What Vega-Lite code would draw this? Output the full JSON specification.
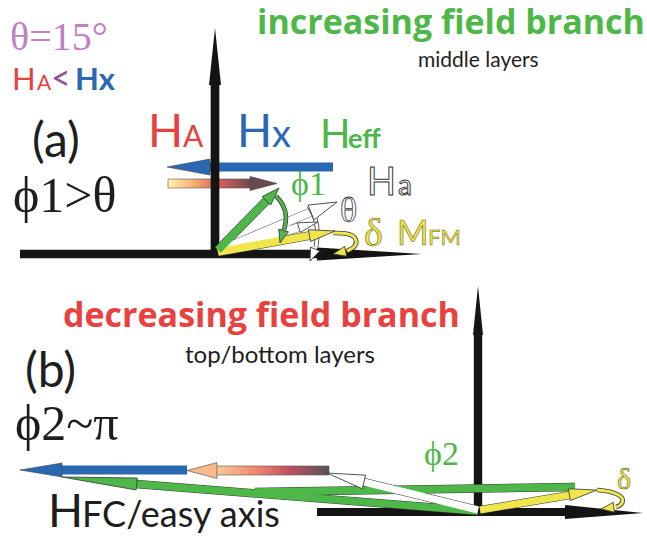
{
  "$schema": "https://vega.github.io/schema/vega-lite/v6.json",
  "width": 647,
  "height": 536,
  "padding": 0,
  "autosize": {"type": "none"},
  "background": "#ffffff",
  "config": {"view": {"stroke": null}},
  "datasets": {
    "shafts": [
      {"v": "Hx_a", "q": "Hx", "g": "under", "x": 333, "y": 167, "x2": 208, "y2": 167},
      {"v": "Hx_b", "q": "Hx", "g": "under", "x": 187, "y": 470, "x2": 60, "y2": 470},
      {"v": "axis_av", "q": "axis", "g": "axis", "x": 215, "y": 257, "x2": 215, "y2": 84},
      {"v": "axis_ah", "q": "axis", "g": "axis", "x": 20, "y": 254, "x2": 318, "y2": 254},
      {"v": "axis_bv", "q": "axis", "g": "axis", "x": 478, "y": 515, "x2": 478, "y2": 334},
      {"v": "axis_bh", "q": "axis", "g": "axis", "x": 317, "y": 512, "x2": 566, "y2": 512},
      {"v": "Ha_a2", "q": "Ha", "g": "over", "x": 218, "y": 251, "x2": 300, "y2": 227},
      {"v": "Ha_a1", "q": "Ha", "g": "over", "x": 218, "y": 251, "x2": 311, "y2": 212},
      {"v": "MFM_a", "q": "MFM", "g": "over", "x": 218, "y": 252, "x2": 310, "y2": 235.5},
      {"v": "Heff_a", "q": "Heff", "g": "over", "x": 218, "y": 250, "x2": 267, "y2": 200},
      {"v": "phi2band", "q": "Heff", "g": "over", "x": 255, "y": 492, "x2": 575, "y2": 487},
      {"v": "Heff_b", "q": "Heff", "g": "over", "x": 478, "y": 511, "x2": 136, "y2": 484},
      {"v": "Ha_b", "q": "Ha", "g": "over", "x": 478, "y": 510, "x2": 364, "y2": 482},
      {"v": "MFM_b", "q": "MFM", "g": "over", "x": 480, "y": 510, "x2": 570, "y2": 495}
    ],
    "heads": [
      {"v": "Hx_a", "q": "Hx", "g": "under", "bx": 210, "by": 167, "x": 167, "y": 167},
      {"v": "Hx_b", "q": "Hx", "g": "under", "bx": 62, "by": 470, "x": 20, "y": 470},
      {"v": "grad_a", "q": "grad_a", "g": "under", "bx": 250, "by": 183.5, "x": 277, "y": 183.5},
      {"v": "grad_b", "q": "grad_b", "g": "under", "bx": 217, "by": 470.5, "x": 187, "y": 470.5},
      {"v": "axis_av", "q": "axis", "g": "axis", "bx": 215, "by": 85, "x": 215, "y": 28},
      {"v": "axis_ah", "q": "axis", "g": "axis", "bx": 317, "by": 254, "x": 422, "y": 254},
      {"v": "axis_bv", "q": "axis", "g": "axis", "bx": 478, "by": 335, "x": 478, "y": 286},
      {"v": "axis_bh", "q": "axis", "g": "axis", "bx": 565, "by": 512, "x": 643, "y": 513},
      {"v": "Ha_a2", "q": "Ha", "g": "over", "bx": 299, "by": 227.6, "x": 318, "y": 222},
      {"v": "Ha_a1", "q": "Ha", "g": "over", "bx": 311, "by": 212.5, "x": 337, "y": 202},
      {"v": "MFM_a", "q": "MFM", "g": "over", "bx": 309.4, "by": 235.6, "x": 335, "y": 231},
      {"v": "Heff_a", "q": "Heff", "g": "over", "bx": 266.4, "by": 200.8, "x": 279, "y": 188},
      {"v": "Heff_b", "q": "Heff", "g": "over", "bx": 137, "by": 484, "x": 62, "y": 477},
      {"v": "Ha_b", "q": "Ha", "g": "over", "bx": 364, "by": 482, "x": 327, "y": 473},
      {"v": "MFM_b", "q": "MFM", "g": "over", "bx": 569.4, "by": 494.7, "x": 597, "y": 490},
      {"v": "arc", "q": "Heff", "g": "over", "bx": 284, "by": 229, "x": 280, "y": 243},
      {"v": "arc", "q": "Ha", "g": "over", "bx": 316, "by": 247, "x": 310, "y": 261},
      {"v": "arc", "q": "MFM", "g": "over", "bx": 347, "by": 251, "x": 333, "y": 254},
      {"v": "arc", "q": "MFM", "g": "over", "bx": 616, "by": 507, "x": 601, "y": 509}
    ],
    "arcs": [
      {"a": "phi1", "q": "Heff", "i": 0, "x": 276, "y": 196},
      {"a": "phi1", "q": "Heff", "i": 1, "x": 284, "y": 205},
      {"a": "phi1", "q": "Heff", "i": 2, "x": 287, "y": 218},
      {"a": "phi1", "q": "Heff", "i": 3, "x": 284, "y": 230},
      {"a": "th", "q": "Ha", "i": 0, "x": 309, "y": 206},
      {"a": "th", "q": "Ha", "i": 1, "x": 316, "y": 218},
      {"a": "th", "q": "Ha", "i": 2, "x": 318, "y": 233},
      {"a": "th", "q": "Ha", "i": 3, "x": 316, "y": 247},
      {"a": "da", "q": "MFM", "i": 0, "x": 333, "y": 233},
      {"a": "da", "q": "MFM", "i": 1, "x": 348, "y": 233},
      {"a": "da", "q": "MFM", "i": 2, "x": 357, "y": 238},
      {"a": "da", "q": "MFM", "i": 3, "x": 356, "y": 247},
      {"a": "da", "q": "MFM", "i": 4, "x": 347, "y": 251},
      {"a": "db", "q": "MFM", "i": 0, "x": 597, "y": 490},
      {"a": "db", "q": "MFM", "i": 1, "x": 615, "y": 492},
      {"a": "db", "q": "MFM", "i": 2, "x": 625, "y": 499},
      {"a": "db", "q": "MFM", "i": 3, "x": 620, "y": 506},
      {"a": "db", "q": "MFM", "i": 4, "x": 616, "y": 507}
    ],
    "grads": [
      {"g": "a", "x": 168, "x2": 252, "y": 179, "y2": 188},
      {"g": "b", "x": 215, "x2": 329, "y": 466, "y2": 475}
    ],
    "texts": [
      {"k": "tb", "t": "increasing field branch", "q": "Heff", "x": 257, "y": 34},
      {"k": "tb", "t": "decreasing field branch", "q": "HA", "x": 63, "y": 327},
      {"k": "s21", "t": "middle layers", "q": "label", "x": 418, "y": 67},
      {"k": "s24", "t": "top/bottom layers", "q": "label", "x": 185, "y": 363},
      {"k": "s21", "t": "A", "q": "HA", "x": 37, "y": 90},
      {"k": "s48", "t": "(a)", "q": "label", "x": 32, "y": 157},
      {"k": "s48", "t": "(b)", "q": "label", "x": 25, "y": 387},
      {"k": "r50", "t": "ϕ1>θ", "q": "label", "x": 13, "y": 212},
      {"k": "r50", "t": "ϕ2~π", "q": "label", "x": 15, "y": 440},
      {"k": "r40", "t": "θ=15°", "q": "theta", "x": 10, "y": 50},
      {"k": "s31", "t": "H", "q": "HA", "x": 12, "y": 90},
      {"k": "lt", "t": "<", "q": "mix", "x": 51, "y": 90},
      {"k": "sb31", "t": "Hx", "q": "Hx", "x": 75, "y": 90},
      {"k": "s46", "t": "H", "q": "HA", "x": 148, "y": 147},
      {"k": "s46", "t": "H", "q": "Hx", "x": 237, "y": 147},
      {"k": "s30", "t": "A", "q": "HA", "x": 183, "y": 147},
      {"k": "s38", "t": "x", "q": "Hx", "x": 272, "y": 147},
      {"k": "s40", "t": "H", "q": "Heff", "x": 320, "y": 148},
      {"k": "sb27", "t": "eff", "q": "Heff", "x": 348, "y": 148},
      {"k": "r34", "t": "ϕ1", "q": "Heff", "x": 291, "y": 195},
      {"k": "r34", "t": "ϕ2", "q": "Heff", "x": 424, "y": 465},
      {"k": "o38", "t": "H", "q": "Ha", "x": 367, "y": 195},
      {"k": "o28", "t": "a", "q": "Ha", "x": 398, "y": 195},
      {"k": "or36", "t": "θ", "q": "Ha", "x": 340, "y": 222},
      {"k": "yr40", "t": "δ", "q": "MFM", "x": 364, "y": 246},
      {"k": "yr30", "t": "δ", "q": "MFM", "x": 617, "y": 489},
      {"k": "y34", "t": "M", "q": "MFM", "x": 397, "y": 245},
      {"k": "y22", "t": "FM", "q": "MFM", "x": 428, "y": 245},
      {"k": "s46", "t": "H", "q": "label", "x": 48, "y": 527},
      {"k": "s36", "t": "FC/easy axis", "q": "label", "x": 82, "y": 527}
    ]
  },
  "encoding": {
    "x": {"field": "x", "type": "quantitative", "scale": {"domain": [0, 647], "nice": false, "zero": false}, "axis": null},
    "y": {"field": "y", "type": "quantitative", "scale": {"domain": [0, 536], "nice": false, "zero": false, "reverse": true}, "axis": null}
  },
  "resolve": {"scale": {"strokeWidth": "independent"}},
  "layer": [
    {
      "data": {"name": "grads"},
      "transform": [{"filter": "datum.g == 'a'"}],
      "mark": {"type": "rect", "stroke": "#555555", "strokeWidth": 0.6,
        "fill": {"gradient": "linear", "stops": [
          {"offset": 0, "color": "#fff3b0"}, {"offset": 0.3, "color": "#f6b070"},
          {"offset": 0.6, "color": "#d9605a"}, {"offset": 1, "color": "#6b4a4e"}]}},
      "encoding": {"x2": {"field": "x2"}, "y2": {"field": "y2"}}
    },
    {
      "data": {"name": "grads"},
      "transform": [{"filter": "datum.g == 'b'"}],
      "mark": {"type": "rect", "stroke": "#555555", "strokeWidth": 0.6,
        "fill": {"gradient": "linear", "stops": [
          {"offset": 0, "color": "#fbcc9c"}, {"offset": 0.35, "color": "#f08a70"},
          {"offset": 0.65, "color": "#c05060"}, {"offset": 1, "color": "#555555"}]}},
      "encoding": {"x2": {"field": "x2"}, "y2": {"field": "y2"}}
    },
    {
      "data": {"name": "shafts"},
      "transform": [{"filter": "datum.g == 'under'"}],
      "mark": {"type": "rule"},
      "encoding": {
        "x2": {"field": "x2"}, "y2": {"field": "y2"},
        "color": {"field": "q", "type": "nominal", "legend": null, "scale": {
          "domain": ["axis", "Hx", "Heff", "MFM", "Ha", "grad_a", "grad_b", "HA", "theta", "mix", "label"],
          "range": ["#141414", "#2b68b3", "#4db848", "#eee64a", "#ffffff", "#6b4a4e", "#f6ba8e", "#e8413e", "#c47fbf", "#94509c", "#1e1e1e"]}},
        "strokeWidth": {"field": "v", "type": "ordinal", "legend": null, "scale": {
          "domain": ["Hx_a", "Hx_b", "axis_av", "axis_ah", "axis_bv", "axis_bh", "Ha_a2", "Ha_a1", "MFM_a", "Heff_a", "phi2band", "Heff_b", "Ha_b", "MFM_b"],
          "range": [9, 7, 6, 7, 6, 7, 4, 7, 4, 4, 4, 5, 5, 4]}}
      }
    },
    {
      "data": {"name": "heads"},
      "transform": [{"filter": "datum.g == 'under'"}, {"calculate": "atan2(datum.x - datum.bx, datum.by - datum.y) * 180 / PI", "as": "ang"}],
      "mark": {"type": "point", "filled": true, "size": 4, "opacity": 1, "stroke": "#444444", "strokeWidth": 0.6},
      "encoding": {
        "angle": {"field": "ang", "type": "quantitative", "scale": null},
        "shape": {"field": "v", "type": "nominal", "legend": null, "scale": {
          "domain": ["Hx_a", "Hx_b", "grad_a", "grad_b", "axis_av", "axis_ah", "axis_bv", "axis_bh", "Ha_a2", "Ha_a1", "MFM_a", "Heff_a", "Heff_b", "Ha_b", "MFM_b", "arc"],
          "range": ["M0,0L-8,43L8,43Z", "M0,0L-7,42L7,42Z", "M0,0L-7,27L7,27Z", "M0,0L-8,30L8,30Z", "M0,0L-6,57L6,57Z", "M0,0L-6.5,105L6.5,105Z", "M0,0L-5,49L5,49Z", "M0,0L-7,78L7,78Z", "M0,0L-5,20L5,20Z", "M0,0L-8,28L8,28Z", "M0,0L-6,26L6,26Z", "M0,0L-6,18L6,18Z", "M0,0L-6,75L6,75Z", "M0,0L-7,38L7,38Z", "M0,0L-6,28L6,28Z", "M0,0L-5,13L5,13Z"]}},
        "color": {"field": "q", "type": "nominal", "legend": null, "scale": {
          "domain": ["axis", "Hx", "Heff", "MFM", "Ha", "grad_a", "grad_b", "HA", "theta", "mix", "label"],
          "range": ["#141414", "#2b68b3", "#4db848", "#eee64a", "#ffffff", "#6b4a4e", "#f6ba8e", "#e8413e", "#c47fbf", "#94509c", "#1e1e1e"]}}
      }
    },
    {
      "data": {"name": "shafts"},
      "transform": [{"filter": "datum.g == 'axis'"}],
      "mark": {"type": "rule", "color": "#141414"},
      "encoding": {
        "x2": {"field": "x2"}, "y2": {"field": "y2"},
        "strokeWidth": {"field": "v", "type": "ordinal", "legend": null, "scale": {
          "domain": ["Hx_a", "Hx_b", "axis_av", "axis_ah", "axis_bv", "axis_bh", "Ha_a2", "Ha_a1", "MFM_a", "Heff_a", "phi2band", "Heff_b", "Ha_b", "MFM_b"],
          "range": [9, 7, 6, 7, 6, 7, 4, 7, 4, 4, 4, 5, 5, 4]}}
      }
    },
    {
      "data": {"name": "heads"},
      "transform": [{"filter": "datum.g == 'axis'"}, {"calculate": "atan2(datum.x - datum.bx, datum.by - datum.y) * 180 / PI", "as": "ang"}],
      "mark": {"type": "point", "filled": true, "size": 4, "opacity": 1, "color": "#141414"},
      "encoding": {
        "angle": {"field": "ang", "type": "quantitative", "scale": null},
        "shape": {"field": "v", "type": "nominal", "legend": null, "scale": {
          "domain": ["Hx_a", "Hx_b", "grad_a", "grad_b", "axis_av", "axis_ah", "axis_bv", "axis_bh", "Ha_a2", "Ha_a1", "MFM_a", "Heff_a", "Heff_b", "Ha_b", "MFM_b", "arc"],
          "range": ["M0,0L-8,43L8,43Z", "M0,0L-7,42L7,42Z", "M0,0L-7,27L7,27Z", "M0,0L-8,30L8,30Z", "M0,0L-6,57L6,57Z", "M0,0L-6.5,105L6.5,105Z", "M0,0L-5,49L5,49Z", "M0,0L-7,78L7,78Z", "M0,0L-5,20L5,20Z", "M0,0L-8,28L8,28Z", "M0,0L-6,26L6,26Z", "M0,0L-6,18L6,18Z", "M0,0L-6,75L6,75Z", "M0,0L-7,38L7,38Z", "M0,0L-6,28L6,28Z", "M0,0L-5,13L5,13Z"]}}
      }
    },
    {
      "data": {"name": "shafts"},
      "transform": [{"filter": "datum.g == 'over'"}],
      "mark": {"type": "rule", "color": "#3a3a3a"},
      "encoding": {
        "x2": {"field": "x2"}, "y2": {"field": "y2"},
        "strokeWidth": {"field": "v", "type": "ordinal", "legend": null, "scale": {
          "domain": ["Hx_a", "Hx_b", "axis_av", "axis_ah", "axis_bv", "axis_bh", "Ha_a2", "Ha_a1", "MFM_a", "Heff_a", "phi2band", "Heff_b", "Ha_b", "MFM_b"],
          "range": [10, 8, 7, 8, 7, 8, 5.6, 8.6, 5.6, 5.6, 5.4, 6.6, 6.6, 5.6]}}
      }
    },
    {
      "data": {"name": "shafts"},
      "transform": [{"filter": "datum.g == 'over'"}],
      "mark": {"type": "rule"},
      "encoding": {
        "x2": {"field": "x2"}, "y2": {"field": "y2"},
        "color": {"field": "q", "type": "nominal", "legend": null, "scale": {
          "domain": ["axis", "Hx", "Heff", "MFM", "Ha", "grad_a", "grad_b", "HA", "theta", "mix", "label"],
          "range": ["#141414", "#2b68b3", "#4db848", "#eee64a", "#ffffff", "#6b4a4e", "#f6ba8e", "#e8413e", "#c47fbf", "#94509c", "#1e1e1e"]}},
        "strokeWidth": {"field": "v", "type": "ordinal", "legend": null, "scale": {
          "domain": ["Hx_a", "Hx_b", "axis_av", "axis_ah", "axis_bv", "axis_bh", "Ha_a2", "Ha_a1", "MFM_a", "Heff_a", "phi2band", "Heff_b", "Ha_b", "MFM_b"],
          "range": [9, 7, 6, 7, 6, 7, 4, 7, 4, 4, 4, 5, 5, 4]}}
      }
    },
    {
      "data": {"name": "arcs"},
      "mark": {"type": "line", "interpolate": "basis", "color": "#3a3a3a", "strokeWidth": 4.6},
      "encoding": {"detail": {"field": "a"}, "order": {"field": "i", "type": "quantitative"}}
    },
    {
      "data": {"name": "arcs"},
      "mark": {"type": "line", "interpolate": "basis", "strokeWidth": 3},
      "encoding": {
        "detail": {"field": "a"}, "order": {"field": "i", "type": "quantitative"},
        "color": {"field": "q", "type": "nominal", "legend": null, "scale": {
          "domain": ["axis", "Hx", "Heff", "MFM", "Ha", "grad_a", "grad_b", "HA", "theta", "mix", "label"],
          "range": ["#141414", "#2b68b3", "#4db848", "#eee64a", "#ffffff", "#6b4a4e", "#f6ba8e", "#e8413e", "#c47fbf", "#94509c", "#1e1e1e"]}}
      }
    },
    {
      "data": {"name": "heads"},
      "transform": [{"filter": "datum.g == 'over'"}, {"calculate": "atan2(datum.x - datum.bx, datum.by - datum.y) * 180 / PI", "as": "ang"}],
      "mark": {"type": "point", "filled": true, "size": 4, "opacity": 1, "stroke": "#3a3a3a", "strokeWidth": 0.8},
      "encoding": {
        "angle": {"field": "ang", "type": "quantitative", "scale": null},
        "shape": {"field": "v", "type": "nominal", "legend": null, "scale": {
          "domain": ["Hx_a", "Hx_b", "grad_a", "grad_b", "axis_av", "axis_ah", "axis_bv", "axis_bh", "Ha_a2", "Ha_a1", "MFM_a", "Heff_a", "Heff_b", "Ha_b", "MFM_b", "arc"],
          "range": ["M0,0L-8,43L8,43Z", "M0,0L-7,42L7,42Z", "M0,0L-7,27L7,27Z", "M0,0L-8,30L8,30Z", "M0,0L-6,57L6,57Z", "M0,0L-6.5,105L6.5,105Z", "M0,0L-5,49L5,49Z", "M0,0L-7,78L7,78Z", "M0,0L-5,20L5,20Z", "M0,0L-8,28L8,28Z", "M0,0L-6,26L6,26Z", "M0,0L-6,18L6,18Z", "M0,0L-6,75L6,75Z", "M0,0L-7,38L7,38Z", "M0,0L-6,28L6,28Z", "M0,0L-5,13L5,13Z"]}},
        "color": {"field": "q", "type": "nominal", "legend": null, "scale": {
          "domain": ["axis", "Hx", "Heff", "MFM", "Ha", "grad_a", "grad_b", "HA", "theta", "mix", "label"],
          "range": ["#141414", "#2b68b3", "#4db848", "#eee64a", "#ffffff", "#6b4a4e", "#f6ba8e", "#e8413e", "#c47fbf", "#94509c", "#1e1e1e"]}}
      }
    },
    {
      "data": {"name": "texts"},
      "transform": [{"filter": "datum.k == 'tb'"}],
      "mark": {"type": "text", "align": "left", "baseline": "alphabetic", "font": "Open Sans", "fontWeight": "bold", "fontSize": 34},
      "encoding": {"text": {"field": "t"}, "color": {"field": "q", "type": "nominal", "legend": null, "scale": {
          "domain": ["axis", "Hx", "Heff", "MFM", "Ha", "grad_a", "grad_b", "HA", "theta", "mix", "label"],
          "range": ["#141414", "#2b68b3", "#4db848", "#eee64a", "#ffffff", "#6b4a4e", "#f6ba8e", "#e8413e", "#c47fbf", "#94509c", "#1e1e1e"]}}}
    },
    {
      "data": {"name": "texts"},
      "transform": [{"filter": "datum.k == 's21'"}],
      "mark": {"type": "text", "align": "left", "baseline": "alphabetic", "font": "Lato", "fontSize": 21},
      "encoding": {"text": {"field": "t"}, "color": {"field": "q", "type": "nominal", "legend": null}}
    },
    {
      "data": {"name": "texts"},
      "transform": [{"filter": "datum.k == 's24'"}],
      "mark": {"type": "text", "align": "left", "baseline": "alphabetic", "font": "Lato", "fontSize": 24},
      "encoding": {"text": {"field": "t"}, "color": {"field": "q", "type": "nominal", "legend": null}}
    },
    {
      "data": {"name": "texts"},
      "transform": [{"filter": "datum.k == 's48'"}],
      "mark": {"type": "text", "align": "left", "baseline": "alphabetic", "font": "Lato", "fontSize": 48},
      "encoding": {"text": {"field": "t"}, "color": {"field": "q", "type": "nominal", "legend": null}}
    },
    {
      "data": {"name": "texts"},
      "transform": [{"filter": "datum.k == 'r50'"}],
      "mark": {"type": "text", "align": "left", "baseline": "alphabetic", "font": "Liberation Serif", "fontSize": 50},
      "encoding": {"text": {"field": "t"}, "color": {"field": "q", "type": "nominal", "legend": null}}
    },
    {
      "data": {"name": "texts"},
      "transform": [{"filter": "datum.k == 'r40'"}],
      "mark": {"type": "text", "align": "left", "baseline": "alphabetic", "font": "Liberation Serif", "fontSize": 40},
      "encoding": {"text": {"field": "t"}, "color": {"field": "q", "type": "nominal", "legend": null}}
    },
    {
      "data": {"name": "texts"},
      "transform": [{"filter": "datum.k == 's31'"}],
      "mark": {"type": "text", "align": "left", "baseline": "alphabetic", "font": "Lato", "fontSize": 31},
      "encoding": {"text": {"field": "t"}, "color": {"field": "q", "type": "nominal", "legend": null}}
    },
    {
      "data": {"name": "texts"},
      "transform": [{"filter": "datum.k == 'lt'"}],
      "mark": {"type": "text", "align": "left", "baseline": "alphabetic", "font": "Lato", "fontSize": 34},
      "encoding": {"text": {"field": "t"}, "color": {"field": "q", "type": "nominal", "legend": null}}
    },
    {
      "data": {"name": "texts"},
      "transform": [{"filter": "datum.k == 'sb31'"}],
      "mark": {"type": "text", "align": "left", "baseline": "alphabetic", "font": "Lato", "fontWeight": "bold", "fontSize": 31},
      "encoding": {"text": {"field": "t"}, "color": {"field": "q", "type": "nominal", "legend": null}}
    },
    {
      "data": {"name": "texts"},
      "transform": [{"filter": "datum.k == 's46'"}],
      "mark": {"type": "text", "align": "left", "baseline": "alphabetic", "font": "Lato", "fontSize": 46},
      "encoding": {"text": {"field": "t"}, "color": {"field": "q", "type": "nominal", "legend": null}}
    },
    {
      "data": {"name": "texts"},
      "transform": [{"filter": "datum.k == 's30'"}],
      "mark": {"type": "text", "align": "left", "baseline": "alphabetic", "font": "Lato", "fontSize": 30},
      "encoding": {"text": {"field": "t"}, "color": {"field": "q", "type": "nominal", "legend": null}}
    },
    {
      "data": {"name": "texts"},
      "transform": [{"filter": "datum.k == 's38'"}],
      "mark": {"type": "text", "align": "left", "baseline": "alphabetic", "font": "Lato", "fontSize": 38},
      "encoding": {"text": {"field": "t"}, "color": {"field": "q", "type": "nominal", "legend": null}}
    },
    {
      "data": {"name": "texts"},
      "transform": [{"filter": "datum.k == 's40'"}],
      "mark": {"type": "text", "align": "left", "baseline": "alphabetic", "font": "Lato", "fontSize": 40},
      "encoding": {"text": {"field": "t"}, "color": {"field": "q", "type": "nominal", "legend": null}}
    },
    {
      "data": {"name": "texts"},
      "transform": [{"filter": "datum.k == 'sb27'"}],
      "mark": {"type": "text", "align": "left", "baseline": "alphabetic", "font": "Lato", "fontWeight": "bold", "fontSize": 27},
      "encoding": {"text": {"field": "t"}, "color": {"field": "q", "type": "nominal", "legend": null}}
    },
    {
      "data": {"name": "texts"},
      "transform": [{"filter": "datum.k == 'r34'"}],
      "mark": {"type": "text", "align": "left", "baseline": "alphabetic", "font": "Liberation Serif", "fontSize": 34},
      "encoding": {"text": {"field": "t"}, "color": {"field": "q", "type": "nominal", "legend": null}}
    },
    {
      "data": {"name": "texts"},
      "transform": [{"filter": "datum.k == 'o38'"}],
      "mark": {"type": "text", "align": "left", "baseline": "alphabetic", "font": "Lato", "fontSize": 38, "stroke": "#333333", "strokeWidth": 1},
      "encoding": {"text": {"field": "t"}, "color": {"field": "q", "type": "nominal", "legend": null}}
    },
    {
      "data": {"name": "texts"},
      "transform": [{"filter": "datum.k == 'o28'"}],
      "mark": {"type": "text", "align": "left", "baseline": "alphabetic", "font": "Lato", "fontSize": 28, "stroke": "#333333", "strokeWidth": 1},
      "encoding": {"text": {"field": "t"}, "color": {"field": "q", "type": "nominal", "legend": null}}
    },
    {
      "data": {"name": "texts"},
      "transform": [{"filter": "datum.k == 'or36'"}],
      "mark": {"type": "text", "align": "left", "baseline": "alphabetic", "font": "Liberation Serif", "fontSize": 36, "stroke": "#333333", "strokeWidth": 0.8},
      "encoding": {"text": {"field": "t"}, "color": {"field": "q", "type": "nominal", "legend": null}}
    },
    {
      "data": {"name": "texts"},
      "transform": [{"filter": "datum.k == 'yr40'"}],
      "mark": {"type": "text", "align": "left", "baseline": "alphabetic", "font": "Liberation Serif", "fontSize": 40, "stroke": "#6e6820", "strokeWidth": 0.6},
      "encoding": {"text": {"field": "t"}, "color": {"field": "q", "type": "nominal", "legend": null}}
    },
    {
      "data": {"name": "texts"},
      "transform": [{"filter": "datum.k == 'yr30'"}],
      "mark": {"type": "text", "align": "left", "baseline": "alphabetic", "font": "Liberation Serif", "fontSize": 30, "stroke": "#6e6820", "strokeWidth": 0.6},
      "encoding": {"text": {"field": "t"}, "color": {"field": "q", "type": "nominal", "legend": null}}
    },
    {
      "data": {"name": "texts"},
      "transform": [{"filter": "datum.k == 'y34'"}],
      "mark": {"type": "text", "align": "left", "baseline": "alphabetic", "font": "Lato", "fontSize": 34, "stroke": "#6e6820", "strokeWidth": 0.6},
      "encoding": {"text": {"field": "t"}, "color": {"field": "q", "type": "nominal", "legend": null}}
    },
    {
      "data": {"name": "texts"},
      "transform": [{"filter": "datum.k == 'y22'"}],
      "mark": {"type": "text", "align": "left", "baseline": "alphabetic", "font": "Lato", "fontSize": 22, "stroke": "#6e6820", "strokeWidth": 0.5},
      "encoding": {"text": {"field": "t"}, "color": {"field": "q", "type": "nominal", "legend": null}}
    },
    {
      "data": {"name": "texts"},
      "transform": [{"filter": "datum.k == 's36'"}],
      "mark": {"type": "text", "align": "left", "baseline": "alphabetic", "font": "Lato", "fontSize": 36},
      "encoding": {"text": {"field": "t"}, "color": {"field": "q", "type": "nominal", "legend": null}}
    }
  ]
}
